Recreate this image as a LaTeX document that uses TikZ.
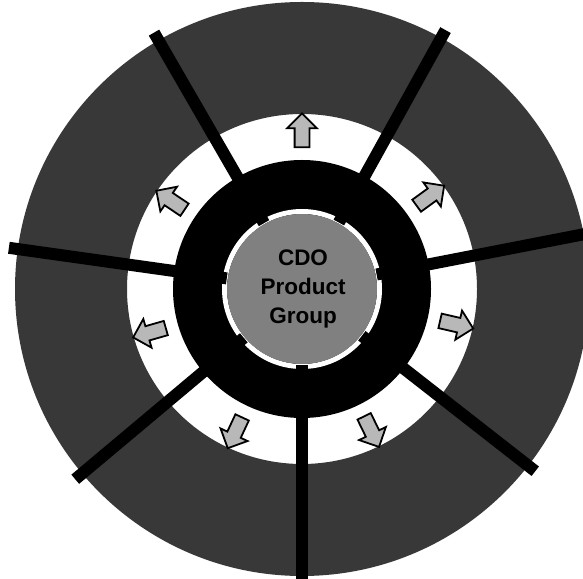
\documentclass[tikz,border=0pt]{standalone}
\usepackage{fontspec}
\setmainfont{Liberation Sans}
\usetikzlibrary{shapes.arrows,calc}
\definecolor{ringgray}{gray}{0.22}
\definecolor{coregray}{gray}{0.50}
\definecolor{arrowgray}{gray}{0.72}
\begin{document}
\begin{tikzpicture}[x=1pt,y=1pt,
  spoke/.style={line width=12pt, black},
  outarrow/.style={single arrow, draw=black, line width=1.8pt, fill=arrowgray,
    minimum height=34pt, minimum width=28pt, inner xsep=0pt, inner ysep=6.5pt,
    single arrow head extend=7.5pt, outer sep=0pt},
  title/.style={font=\fontsize{22.5}{29}\selectfont\bfseries, align=center, text=black}]
\clip (0,0) rectangle (583,578);
\fill[white] (0,0) rectangle (583,578);
\coordinate (c) at (302,289);
% outer gray ring
\fill[ringgray, even odd rule] (c) circle[radius=287] (c) circle[radius=175];
% black ring
\fill[black] (c) circle[radius=129];
% white rim around the core
\draw[white, line width=5pt] (c) circle[radius=77.5];
% gray core
\fill[coregray] (c) circle[radius=75];
% spokes
\foreach \a [count=\i] in {11,61,120,172,220,270,322} {
  \coordinate (s\i) at ($(c)+(\a:76)$);
  \coordinate (e\i) at ($(c)+(\a:296)$);
  \draw[spoke] (s\i) -- (e\i);
}
% arrows
\foreach \a [count=\i] in {36,90,146,196,245,296,347} {
  \node[outarrow, rotate=\a] (arr\i) at ($(c)+(\a:155)$) {};
}
\node[title] (core) at (303,289) {CDO\\Product\\Group};
\end{tikzpicture}
\end{document}
